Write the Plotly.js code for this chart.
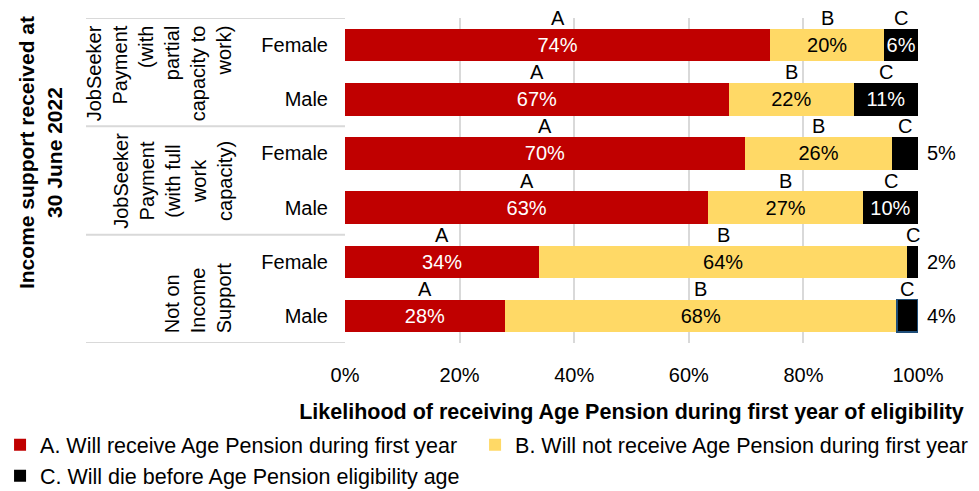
<!DOCTYPE html>
<html><head><meta charset="utf-8">
<script src="https://cdn.plot.ly/plotly-3.0.1.min.js"></script>
<style>html,body{margin:0;padding:0;background:#fff}</style>
</head><body><div id="chart" style="width:979px;height:491px"></div>
<script>
// ---- data ----
const rowLabels = ['Female', 'Male', 'Female', 'Male', 'Female', 'Male'];
const groupLabels = [
  'JobSeeker<br>Payment<br>(with<br>partial<br>capacity to<br>work)',
  'JobSeeker<br>Payment<br>(with full<br>work<br>capacity)',
  'Not on<br>Income<br>Support'
];
const willReceive    = [74.2, 67.0, 69.8, 63.4, 33.9, 27.9];
const willNotReceive = [19.9, 21.8, 25.7, 27.0, 64.2, 68.4];
const willDie        = [5.9, 11.2, 4.5, 9.6, 1.9, 3.7];
const seriesNames = [
  'A. Will receive Age Pension during first year',
  'B. Will not receive Age Pension during first year',
  'C. Will die before Age Pension eligibility age'
];
const segmentLetters = ['A', 'B', 'C'];
const xTickVals = [0, 20, 40, 60, 80, 100];
const xTickText = ['0%', '20%', '40%', '60%', '80%', '100%'];
const yTitle = 'Income support received at<br>30 June 2022';
const xTitle = 'Likelihood of receiving Age Pension during first year of eligibility';

// ---- build ----
const FONT = '"Liberation Sans", Arial, sans-serif';
const rows = rowLabels.map((_, i) => i);
const colors = ['#C00000', '#FFD966', '#000000'];
const series = [willReceive, willNotReceive, willDie];
const fmt = v => Math.round(v) + '%';
const tidy = v => Math.round(v * 1000) / 1000;

const traces = series.map((vals, s) => {
  const isC = s === 2;
  // small end segments get their value label outside the bar (added as annotations below)
  const tmpl = vals.map(v => (isC && v < 5) ? '' : '%{x:.0f}%');
  return {
    type: 'bar', orientation: 'h', name: seriesNames[s],
    x: vals, y: rows,
    legend: s === 1 ? 'legend2' : 'legend',
    legendgroup: 'g' + s,
    marker: {
      color: colors[s],
      line: isC ? {color: vals.map((v, i) => i === 5 ? '#1F4E79' : '#000000'), width: vals.map((v, i) => i === 5 ? 1.5 : 0)} : {width: 0}
    },
    texttemplate: tmpl,
    textposition: 'inside',
    insidetextanchor: 'middle',
    constraintext: 'none',
    textangle: 0,
    insidetextfont: {family: FONT, size: 20, color: s === 1 ? '#000' : '#fff'},
    hoverinfo: 'skip'
  };
});

const annotations = [];
// segment letters above each segment
rows.forEach(i => {
  let cum = 0;
  series.forEach((vals, s) => {
    annotations.push({
      xref: 'x', yref: 'y', x: tidy(cum + vals[i] / 2), y: i, yshift: 27,
      text: segmentLetters[s], showarrow: false,
      font: {family: FONT, size: 20, color: '#000'}
    });
    cum += vals[i];
  });
  cum = tidy(cum);
  // outside label for small last segment
  if (willDie[i] < 5) {
    annotations.push({
      xref: 'x', yref: 'y', x: cum, y: i, xanchor: 'left', xshift: 7,
      text: fmt(willDie[i]), showarrow: false,
      font: {family: FONT, size: 20, color: '#000'}
    });
  }
});
// group labels (rotated)
annotations.push({
  xref: 'paper', yref: 'y', x: -0.188, xanchor: 'right', y: -0.5, yanchor: 'top', yshift: -5,
  text: groupLabels[0], textangle: -90, align: 'right', showarrow: false,
  font: {family: FONT, size: 20, color: '#000'}
});
annotations.push({
  xref: 'paper', yref: 'y', x: -0.188, xanchor: 'right', y: 2.5, yanchor: 'middle',
  text: groupLabels[1], textangle: -90, align: 'center', showarrow: false,
  font: {family: FONT, size: 20, color: '#000'}
});
annotations.push({
  xref: 'paper', yref: 'y', x: -0.188, xanchor: 'right', y: 5.5, yanchor: 'bottom', yshift: 8,
  text: groupLabels[2], textangle: -90, align: 'left', showarrow: false,
  font: {family: FONT, size: 20, color: '#000'}
});
// y title
annotations.push({
  xref: 'paper', yref: 'paper', x: -0.532, y: 0.585, xanchor: 'center', yanchor: 'middle',
  text: yTitle, textangle: -90, showarrow: false,
  font: {family: FONT, size: 21, color: '#000', weight: 'bold'}
});

const shapes = [-0.5, 1.5, 3.5, 5.5].map(b => ({
  type: 'line', xref: 'paper', yref: 'y', x0: -0.452, x1: 0, y0: b, y1: b,
  line: {color: '#d9d9d9', width: 2}, layer: 'below'
}));

const layout = {
  width: 979, height: 491,
  margin: {l: 345, r: 61, t: 18, b: 148, autoexpand: false},
  paper_bgcolor: '#fff', plot_bgcolor: '#fff',
  barmode: 'stack', bargap: 0.4,
  font: {family: FONT, size: 20, color: '#000'},
  xaxis: {
    range: [0, 100], tickvals: xTickVals, ticktext: xTickText,
    showgrid: true, gridcolor: '#d9d9d9', gridwidth: 2, zeroline: false,
    ticks: '', ticklabelstandoff: 18, automargin: false,
    tickfont: {family: FONT, size: 20, color: '#000'},
    title: {text: xTitle, standoff: 18, font: {family: FONT, size: 21.5, color: '#000', weight: 'bold'}},
    fixedrange: true
  },
  yaxis: {
    range: [5.5, -0.5], tickvals: rows, ticktext: rowLabels, automargin: false,
    showgrid: false, zeroline: false, ticks: '', ticklabelstandoff: 16,
    tickfont: {family: FONT, size: 20, color: '#000'},
    fixedrange: true
  },
  legend: {
    x: -0.602, xanchor: 'left', y: -0.25, yanchor: 'top', orientation: 'v',
    font: {family: FONT, size: 21.5, color: '#000'}, tracegroupgap: 0, bgcolor: 'rgba(0,0,0,0)'
  },
  legend2: {
    x: 0.227, xanchor: 'left', y: -0.25, yanchor: 'top', orientation: 'v',
    font: {family: FONT, size: 21.5, color: '#000'}, bgcolor: 'rgba(0,0,0,0)'
  },
  showlegend: true,
  annotations: annotations,
  shapes: shapes
};

Plotly.newPlot('chart', traces, layout, {displayModeBar: false, staticPlot: true});
</script>
</body></html>
